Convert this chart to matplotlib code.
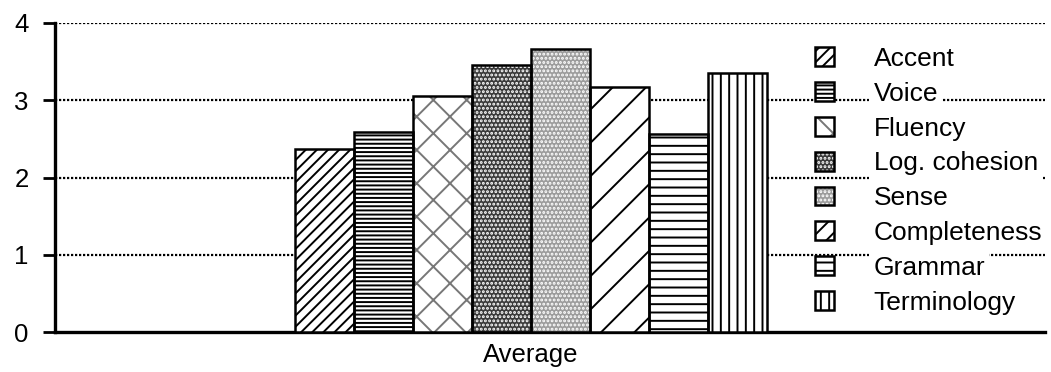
"""
Rating per criterion, average over all judges
bar chart with hatched fills, old-style black and white
"""
import matplotlib
matplotlib.use('Agg')
import matplotlib.pyplot as plt
from matplotlib.patches import Rectangle
from matplotlib.legend_handler import HandlerTuple

plt.rcParams['font.family'] = ['Liberation Sans', 'DejaVu Sans']
plt.rcParams['hatch.linewidth'] = 1.4

# data
group = 'Average'
categories = ['Accent', 'Voice', 'Fluency', 'Log. cohesion', 'Sense',
              'Completeness', 'Grammar', 'Terminology']
values = [2.37, 2.59, 3.06, 3.45, 3.66, 3.17, 2.56, 3.35]
yticks = [0, 1, 2, 3, 4]

# fill styles: (face, hatch, hatch colour, hatch in the small legend box)
styles = [
    ('white', '///', 'black', '///'),
    ('white', '----', 'black', '----'),
    ('white', 'x', '#777777', 'x'),
    ('#3a3a3a', '....', 'white', '....'),
    ('#9c9c9c', '....', 'white', '....'),
    ('white', '/', 'black', '//'),
    ('white', '--', 'black', '--'),
    ('white', '||', 'black', '||'),
]

fig = plt.figure(figsize=(10.51, 3.72), dpi=100)
ax = fig.add_axes([55/1051, 40/372, 990/1051, 309/372])

width = 1.0
n = len(categories)
offsets = [(i - (n - 1) / 2) * width for i in range(n)]

handles = []
for off, val, (face, hatch, hcol, lhatch) in zip(offsets, values, styles):
    ax.bar(off, val, width, color=face, edgecolor='none', linewidth=0, zorder=3)
    ax.bar(off, val, width, fill=False, edgecolor=hcol, hatch=hatch, linewidth=0, zorder=4)
    ax.bar(off, val, width, fill=False, edgecolor='black', linewidth=1.8, zorder=5)
    h = (Rectangle((0, 0), 1, 1, facecolor=face, edgecolor='none', linewidth=0),
         Rectangle((0, 0), 1, 1, fill=False, edgecolor=hcol, hatch=lhatch, linewidth=0),
         Rectangle((0, 0), 1, 1, fill=False, edgecolor='black', linewidth=1.8))
    handles.append(h)

ax.set_ylim(0, 4)
ax.set_xlim(-8.07, 8.71)
ax.set_yticks(yticks)
ax.set_xticks([0])
ax.set_xticklabels([group])
ax.tick_params(axis='y', direction='out', length=9, width=2, labelsize=18.5, pad=10)
ax.tick_params(axis='x', length=0, labelsize=18.5, pad=8)

# wavy looking gridlines
for y in yticks[1:]:
    ax.axhline(y, color='black', lw=1.6, ls=(0, (1, 0.8)), zorder=1)

for s in ['top', 'right']:
    ax.spines[s].set_visible(False)
ax.spines['left'].set_linewidth(2.4)
ax.spines['bottom'].set_linewidth(2.4)

leg = fig.legend(handles, categories, loc='upper left',
                 bbox_to_anchor=(815/1051, 1 - 47/372),
                 handler_map={tuple: HandlerTuple(ndivide=1, pad=0)},
                 fontsize=19, frameon=False, handlelength=0.72, handleheight=0.72,
                 handletextpad=1.5, labelspacing=0.41, borderaxespad=0, borderpad=0)
for t in leg.get_texts():
    t.set_bbox(dict(facecolor='white', edgecolor='none', pad=3))

fig.savefig('out.png', dpi=100)
